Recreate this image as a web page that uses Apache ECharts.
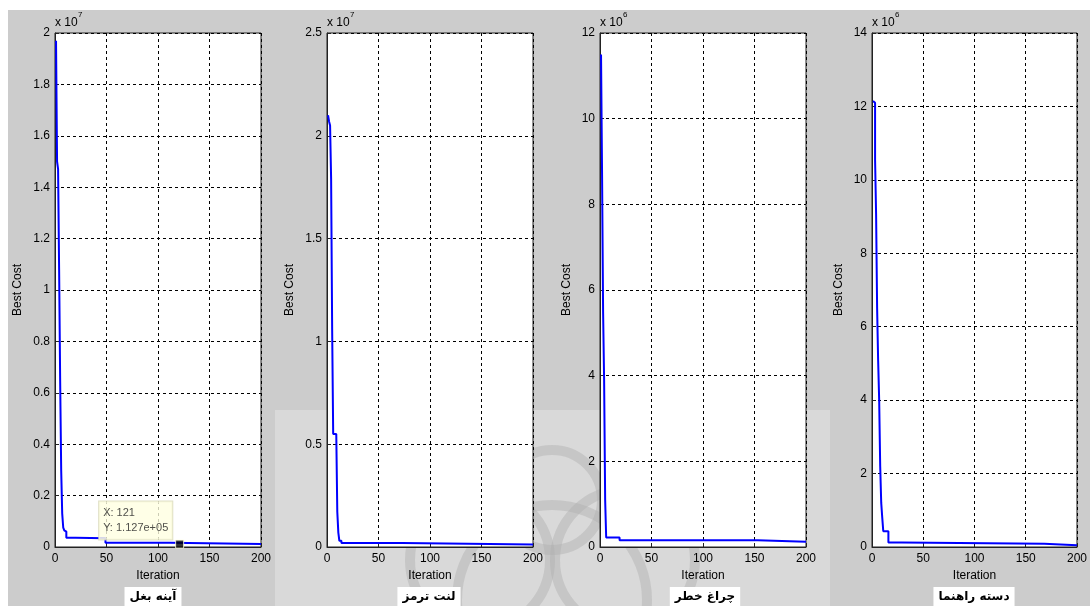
<!DOCTYPE html>
<html>
<head>
<meta charset="utf-8">
<script src="https://cdn.jsdelivr.net/npm/echarts@6/dist/echarts.min.js"></script>
<style>
html,body{margin:0;padding:0;background:#ffffff;}
#chart{width:1090px;height:606px;}
</style>
</head>
<body>
<div id="chart"></div>
<script>
// ---- data (values in units of the axis exponent) ----
const panelTitles = ['آینه بغل', 'لنت ترمز', 'چراغ خطر', 'دسته راهنما'];
const exponents = [7, 7, 6, 6];
const yMax = [2, 2.5, 12, 14];
const yStep = [0.2, 0.5, 2, 2];
const xTicks = [0, 50, 100, 150, 200];

const iter1 = [1, 2, 3, 4, 5, 6, 7, 8, 9, 10, 11, 20, 49, 112, 200];
const cost1 = [1.97, 1.50, 1.47, 1.08, 0.65, 0.30, 0.13, 0.075, 0.065, 0.06, 0.036, 0.034, 0.017, 0.01127, 0.01127];

const iter2 = [1, 2, 3, 4, 5, 6, 9, 10, 11, 12, 14, 73, 200];
const cost2 = [2.10, 2.07, 2.05, 1.79, 1.06, 0.55, 0.55, 0.17, 0.07, 0.03, 0.02, 0.012, 0.012];

const iter3 = [1, 2, 3, 4, 5, 6, 19, 153, 200];
const cost3 = [11.5, 8.7, 5.5, 3.9, 1.1, 0.22, 0.16, 0.12, 0.12];

const iter4 = [1, 2, 3, 4, 5, 6, 7, 8, 9, 10, 11, 16, 29, 168, 200];
const cost4 = [12.15, 12.1, 10.55, 9.06, 6.5, 5.07, 4.0, 2.2, 1.2, 0.8, 0.43, 0.12, 0.09, 0.05, 0.05];

const tipIter = 121; // data-tip on first panel

const iters = [iter1, iter2, iter3, iter4];
const costs = [cost1, cost2, cost3, cost4];

// ---- layout ----
const gridLeft = [55, 327, 600, 872];
const gridTop = 33, gridW = 206, gridH = 514;
const nameGapY = [31, 31, 27, 27];
const titleCenter = [153, 429, 705, 974];
const FONT = 'Liberation Sans, Arial, sans-serif';

function stepValue(xs, ys, x) {
  let v = ys[0];
  for (let i = 0; i < xs.length; i++) { if (xs[i] <= x) v = ys[i]; }
  return v;
}
const tipVal = stepValue(iter1, cost1, tipIter);
function fmtExp(v) {
  let s = v.toExponential(3);
  return s.replace(/e([+-])(\d)$/, 'e$10$2');
}

const grids = [], xAxes = [], yAxes = [], series = [], graphics = [];

// background
graphics.push({ type: 'rect', z: -10, shape: { x: 8, y: 10, width: 1082, height: 596 }, style: { fill: '#cccccc' }, silent: true });
graphics.push({ type: 'rect', z: -9, shape: { x: 275, y: 410, width: 555, height: 196 }, style: { fill: '#d9d9d9' }, silent: true });
// faint watermark arcs
[[552, 600, 95], [480, 560, 70], [625, 560, 70], [552, 500, 50]].forEach(c => {
  graphics.push({ type: 'circle', z: -8, shape: { cx: c[0], cy: c[1], r: c[2] }, style: { fill: 'none', stroke: '#b0b0b0', lineWidth: 10, opacity: 0.45 }, silent: true });
});

for (let k = 0; k < 4; k++) {
  grids.push({ left: gridLeft[k], top: gridTop, width: gridW, height: gridH, show: true,
    backgroundColor: '#ffffff', borderColor: '#222222', borderWidth: 1, containLabel: false });
  xAxes.push({ type: 'value', gridIndex: k, min: xTicks[0], max: xTicks[xTicks.length - 1], interval: 50,
    name: 'Iteration', nameLocation: 'middle', nameGap: 22,
    nameTextStyle: { fontFamily: FONT, fontSize: 12, color: '#000' },
    axisLine: { show: true, onZero: false, lineStyle: { color: '#222', width: 1 } },
    axisTick: { show: true, inside: true, length: 4, lineStyle: { color: '#222' } },
    axisLabel: { fontFamily: FONT, fontSize: 12, color: '#000', margin: 6 },
    splitLine: { show: true, lineStyle: { color: '#000', type: [3, 3], width: 1 } } });
  yAxes.push({ type: 'value', gridIndex: k, min: 0, max: yMax[k], interval: yStep[k],
    name: 'Best Cost', nameLocation: 'middle', nameGap: nameGapY[k], nameRotate: 90,
    nameTextStyle: { fontFamily: FONT, fontSize: 12, color: '#000' },
    axisLine: { show: true, lineStyle: { color: '#222', width: 1 } },
    axisTick: { show: true, inside: true, length: 4, lineStyle: { color: '#222' } },
    axisLabel: { fontFamily: FONT, fontSize: 12, color: '#000', margin: 5,
      formatter: v => String(+v.toFixed(2)) },
    splitLine: { show: true, lineStyle: { color: '#000', type: [3, 3], width: 1 } } });
  series.push({ type: 'line', xAxisIndex: k, yAxisIndex: k, step: 'end', symbol: 'none',
    data: iters[k].map((x, i) => [x, costs[k][i]]),
    lineStyle: { color: '#0000ff', width: 2 }, z: 3, silent: true, animation: false });
  graphics.push({ type: 'text', z: 5, x: titleCenter[k], y: 587,
    style: { text: panelTitles[k], font: 'bold 12px "DejaVu Sans"', fill: '#000', align: 'center', verticalAlign: 'top',
      backgroundColor: '#ffffff', padding: [4, 5, 5, 5] } });
  graphics.push({ type: 'text', z: 5, x: gridLeft[k], y: 17,
    style: { text: 'x 10', font: '12px ' + FONT, fill: '#000' } });
  graphics.push({ type: 'text', z: 5, x: gridLeft[k] + 23, y: 11,
    style: { text: String(exponents[k]), font: '8px ' + FONT, fill: '#000' } });
}

// data tip marker on first panel
series.push({ type: 'scatter', xAxisIndex: 0, yAxisIndex: 0, symbol: 'rect', symbolSize: 8,
  data: [[tipIter, tipVal]], z: 10, silent: true, animation: false,
  itemStyle: { color: '#000', borderColor: '#ffffe1', borderWidth: 1 },
  label: { show: true, position: [-76, -38],
    formatter: () => 'X: ' + tipIter + '\nY: ' + fmtExp(tipVal * Math.pow(10, exponents[0])),
    backgroundColor: '#ffffe1', borderColor: '#d8d8b8', borderWidth: 1,
    padding: [4, 4, 4, 4], lineHeight: 15, fontFamily: FONT, fontSize: 11, color: '#222', align: 'left', verticalAlign: 'top' } });

const chart = echarts.init(document.getElementById('chart'), null, { renderer: 'canvas' });
chart.setOption({
  animation: false,
  backgroundColor: '#ffffff',
  grid: grids,
  xAxis: xAxes,
  yAxis: yAxes,
  series: series,
  graphic: graphics
});
</script>
</body>
</html>
